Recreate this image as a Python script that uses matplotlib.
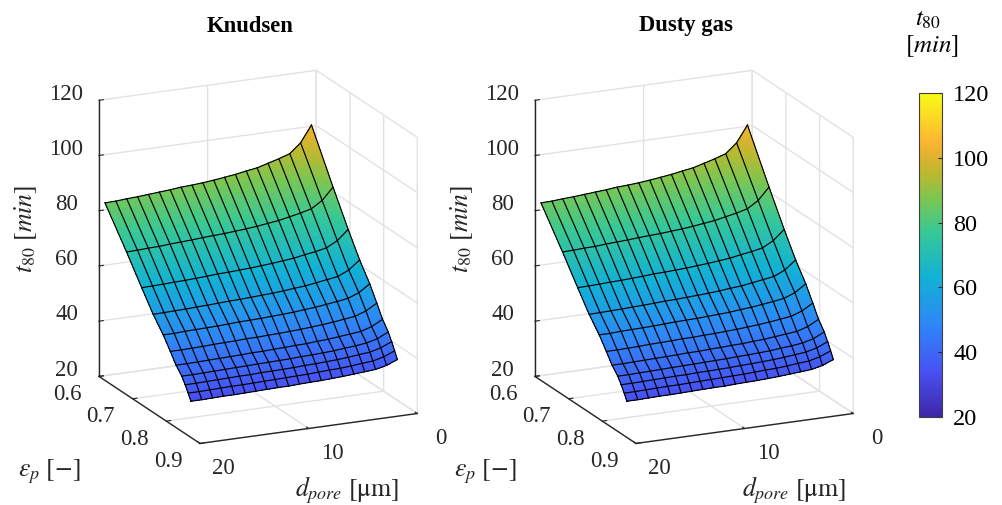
import numpy as np
import matplotlib
matplotlib.use("Agg")
import matplotlib.pyplot as plt
from matplotlib.colors import LinearSegmentedColormap, Normalize
from matplotlib.cm import ScalarMappable
from matplotlib.transforms import ScaledTranslation

plt.rcParams['font.family'] = ['Liberation Serif', 'DejaVu Serif']
plt.rcParams['mathtext.fontset'] = 'stix'

# axes data
d_pore = [1, 2, 3, 4, 5, 6, 7, 8, 9, 10, 11, 12, 13, 14, 15, 16, 17, 18, 19, 20]
eps_p = [0.618, 0.682, 0.727, 0.761, 0.791, 0.812, 0.829, 0.846, 0.856, 0.865, 0.873]

# one row per eps_p, one column per d_pore
t80_knudsen = [
    [102.2, 96.3, 92.9, 91.6, 90.5, 89.4, 88.8, 88.1, 87.6, 87.1, 86.7, 86.4, 86.2, 85.8, 85.5, 85.2, 84.9, 84.7, 84.4, 84.3],
    [84.9, 80.6, 78.1, 77.1, 76.3, 75.5, 75.0, 74.5, 74.1, 73.8, 73.5, 73.3, 73.1, 72.8, 72.6, 72.4, 72.1, 72.0, 71.8, 71.7],
    [73.2, 69.7, 67.6, 66.8, 66.2, 65.5, 65.1, 64.7, 64.4, 64.1, 63.9, 63.7, 63.6, 63.3, 63.1, 62.9, 62.8, 62.6, 62.5, 62.4],
    [64.9, 61.8, 60.0, 59.4, 58.8, 58.2, 57.9, 57.5, 57.2, 57.0, 56.8, 56.6, 56.5, 56.3, 56.1, 56.0, 55.8, 55.7, 55.6, 55.5],
    [58.7, 56.0, 54.5, 53.9, 53.4, 52.9, 52.6, 52.2, 52.0, 51.8, 51.6, 51.5, 51.4, 51.2, 51.0, 50.9, 50.8, 50.7, 50.5, 50.5],
    [53.4, 51.1, 49.7, 49.2, 48.7, 48.3, 48.0, 47.7, 47.5, 47.3, 47.2, 47.0, 47.0, 46.8, 46.7, 46.6, 46.4, 46.3, 46.2, 46.2],
    [48.9, 46.8, 45.6, 45.2, 44.8, 44.4, 44.2, 43.9, 43.8, 43.6, 43.5, 43.3, 43.3, 43.1, 43.0, 42.9, 42.8, 42.7, 42.6, 42.6],
    [45.7, 43.8, 42.8, 42.3, 42.0, 41.6, 41.4, 41.2, 41.1, 40.9, 40.8, 40.7, 40.6, 40.5, 40.4, 40.3, 40.2, 40.1, 40.0, 40.0],
    [43.0, 41.3, 40.3, 39.9, 39.5, 39.2, 39.0, 38.8, 38.7, 38.5, 38.4, 38.3, 38.3, 38.1, 38.1, 38.0, 37.9, 37.8, 37.7, 37.7],
    [40.4, 38.8, 37.8, 37.5, 37.1, 36.8, 36.7, 36.5, 36.3, 36.2, 36.1, 36.0, 35.9, 35.8, 35.7, 35.7, 35.6, 35.5, 35.4, 35.4],
    [37.9, 36.3, 35.4, 35.1, 34.8, 34.5, 34.3, 34.1, 34.0, 33.9, 33.7, 33.7, 33.6, 33.5, 33.4, 33.3, 33.3, 33.2, 33.1, 33.1],
]
t80_dusty = t80_knudsen

d_ticks = [0, 10, 20]
eps_ticks = [0.6, 0.7, 0.8, 0.9]
t_ticks = [20, 40, 60, 80, 100, 120]
parula_pos = [0, 0.143, 0.286, 0.429, 0.571, 0.67, 0.74, 0.8, 0.85, 1]
parula = [(0.2422, 0.1504, 0.6603), (0.2810, 0.3228, 0.9579), (0.1786, 0.5289, 0.9682),
          (0.0689, 0.6948, 0.8394), (0.2161, 0.7843, 0.5923), (0.47, 0.78, 0.33),
          (0.70, 0.73, 0.20), (0.86, 0.70, 0.18), (0.99, 0.71, 0.20), (0.9769, 0.9839, 0.0805)]

cmap = LinearSegmentedColormap.from_list('parula', list(zip(parula_pos, parula)))
norm = Normalize(20, 120)
dark = '#262626'
W, H = 1003, 505
S = 434.5


def refine(values, axis, n=6):
    # finer mesh only for the interpolated face colour, the black mesh uses the table
    values = np.asarray(values, float)
    old = np.arange(values.shape[axis])
    new = np.linspace(0, old[-1], old[-1] * n + 1)
    return np.apply_along_axis(lambda v: np.interp(new, old, v), axis, values)


def shift(axis, dx, dy):
    # mplot3d has only one pad and resets the label transform on every get_major_ticks,
    # so pin the shifted transform on each label
    off = ScaledTranslation(dx / 100, dy / 100, fig.dpi_scale_trans)
    for tick in axis.get_major_ticks():
        tick.label1.set_transform(axis.axes.transData + off)
        tick.label1.set_transform = lambda t: None


def panel(left, title, table, d_label_x):
    ax = fig.add_axes([left / W, 25 / H, S / W, S / H], projection='3d', computed_zorder=False)
    ax.set_proj_type('ortho')
    ax.view_init(elev=17.6, azim=65.5)
    ax.set_box_aspect((1, 1.02, 1.213))
    ax.set_xlim(0, 20, view_margin=0)
    ax.set_ylim(0.6, 0.9, view_margin=0)
    ax.set_zlim(20, 120, view_margin=0)

    X, Y = np.meshgrid(d_pore, eps_p)
    Z = np.array(table)
    Xf = refine(refine(X, 0), 1)
    Yf = refine(refine(Y, 0), 1)
    Zf = refine(refine(Z, 0), 1)
    ax.plot_surface(Xf, Yf, Zf, facecolors=cmap(norm(Zf)), rstride=1, cstride=1, shade=False,
                    linewidth=0, antialiased=False, zorder=1)
    for i in range(Z.shape[0]):
        ax.plot(X[i], Y[i], Z[i], color='k', lw=0.85, zorder=2)
    for j in range(Z.shape[1]):
        ax.plot(X[:, j], Y[:, j], Z[:, j], color='k', lw=0.85, zorder=2)

    ax.set_xticks(d_ticks)
    ax.set_yticks(eps_ticks)
    ax.set_zticks(t_ticks)
    ax.set_yticklabels(['0.6', '0.7', '0.8', '0.9'])
    ax.tick_params(labelsize=16.5, colors=dark, pad=4)
    for axis in (ax.xaxis, ax.yaxis, ax.zaxis):
        axis.pane.set_facecolor((1, 1, 1, 0))
        axis.pane.set_edgecolor((1, 1, 1, 0))
        axis.line.set_color(dark)
        axis.line.set_linewidth(1)
        axis._axinfo['grid'].update(color='#e2e2e2', linewidth=1)
        axis._axinfo['tick'].update(inward_factor=0, outward_factor=0.25)
    shift(ax.xaxis, 16, 11)
    shift(ax.yaxis, -16, 15)
    shift(ax.zaxis, -9, 14)

    fig.text((left + 215) / W, 1 - 26 / H, title, ha='center', va='center', fontsize=16.3, fontweight='bold', color='k')
    fig.text((left - 9) / W, 1 - 229 / H, r'$t_{80}\ [min]$', rotation=90, ha='center', va='center', fontsize=18.5, color=dark)
    fig.text((left + 14) / W, 1 - 472 / H, r'$\epsilon_p\ [-]$', ha='center', va='center', fontsize=18.5, color=dark)
    fig.text(d_label_x / W, 1 - 490 / H, r'$d_{pore}\ [\mathrm{\mu m}]$', ha='center', va='center', fontsize=18.5, color=dark)
    return ax


fig = plt.figure(figsize=(W / 100, H / 100), dpi=100)
panel(35, 'Knudsen', t80_knudsen, 347)
panel(471, 'Dusty gas', t80_dusty, 794)

cax = fig.add_axes([919 / W, 1 - 417 / H, 23 / W, 324 / H])
cb = fig.colorbar(ScalarMappable(norm=norm, cmap=cmap), cax=cax, ticks=t_ticks)
cb.ax.tick_params(direction='in', length=3, width=0.8, color=dark, labelsize=17.5, labelcolor='k', pad=8)
cb.outline.set_edgecolor('#404040')
cb.outline.set_linewidth(0.8)
fig.text(928 / W, 1 - 20 / H, r'$t_{80}$', ha='center', va='center', fontsize=18, color='k')
fig.text(932 / W, 1 - 46 / H, r'$[min]$', ha='center', va='center', fontsize=18, color='k')

fig.savefig('out.png', dpi=100)
